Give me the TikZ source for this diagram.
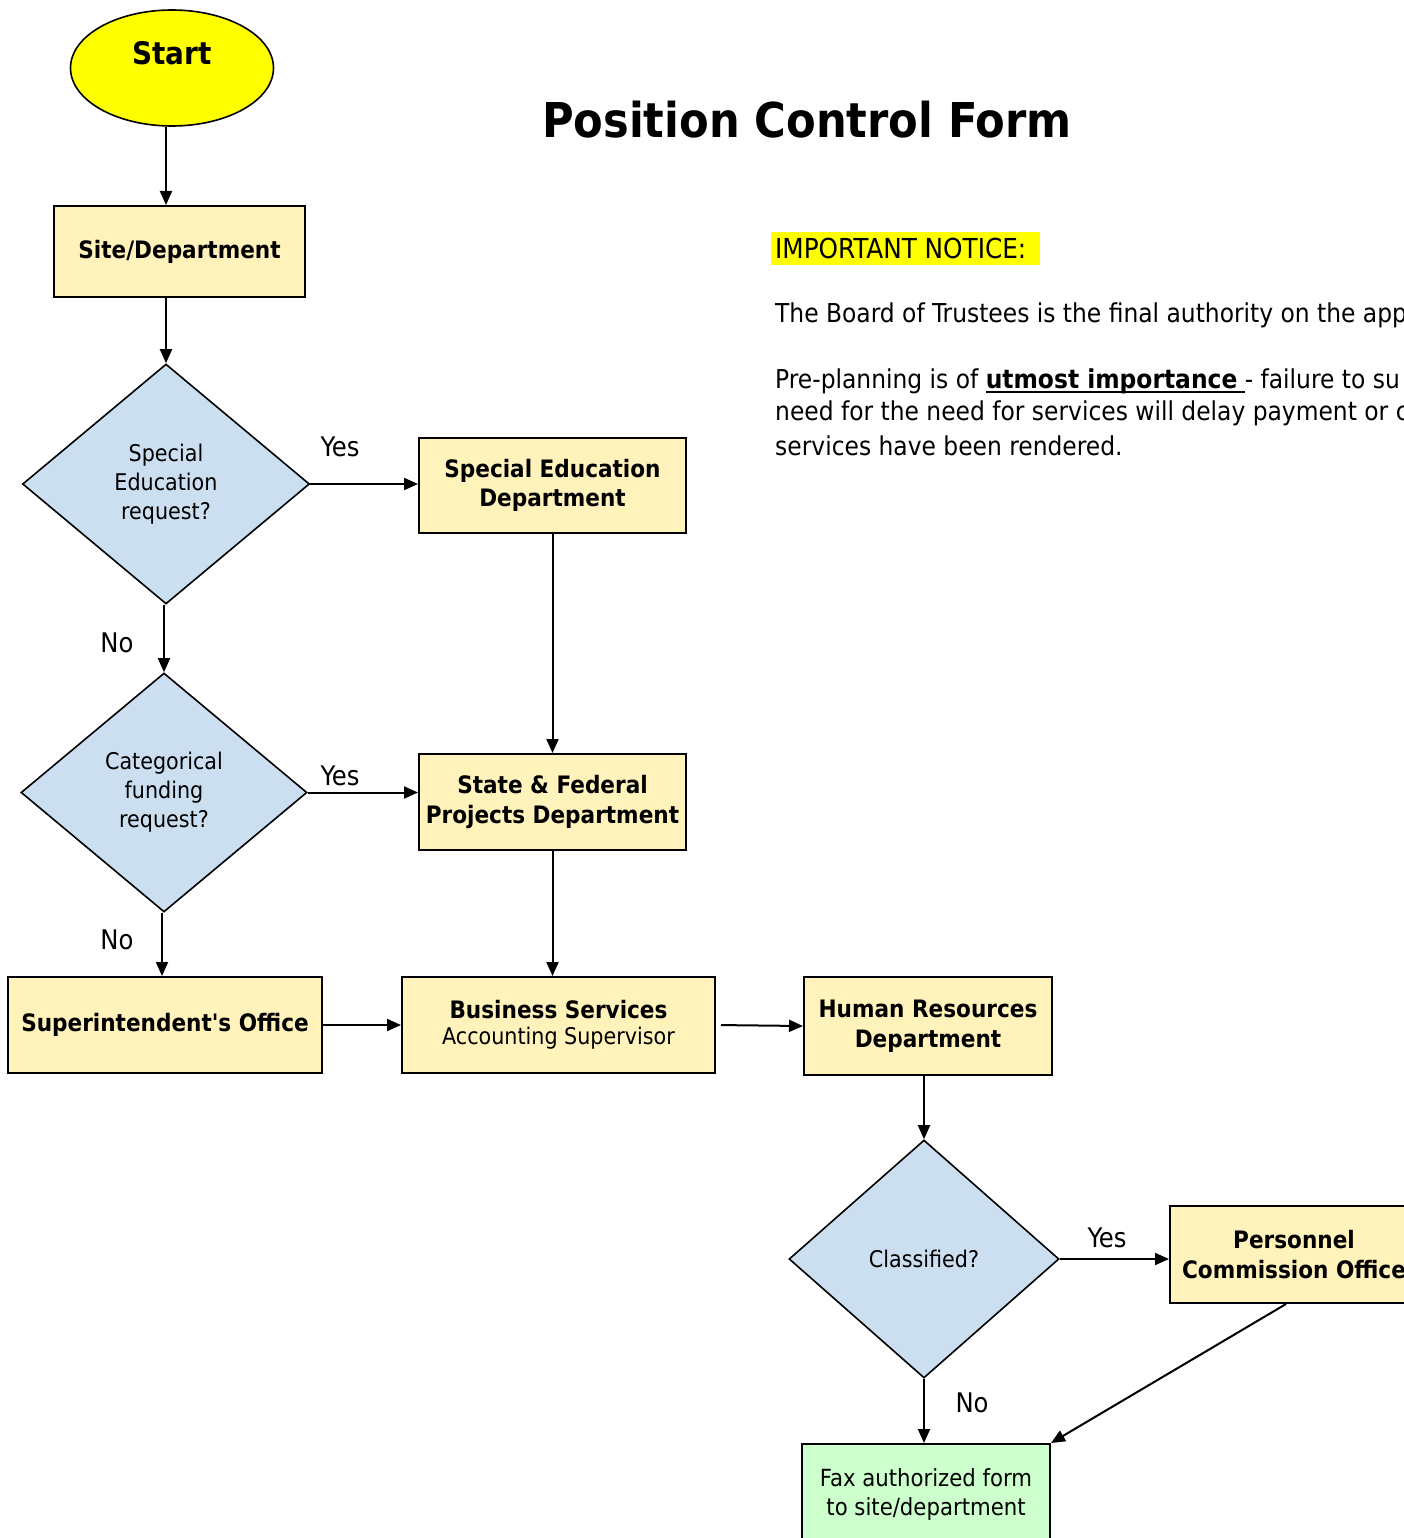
\documentclass[tikz,border=0pt]{standalone}
\usepackage{fontspec}
\setmainfont{DejaVu Sans Condensed}
\usetikzlibrary{shapes.geometric,arrows.meta}
\definecolor{boxfill}{HTML}{FFF2BB}
\definecolor{decfill}{HTML}{CCDFF1}
\definecolor{startfill}{HTML}{FFFF00}
\definecolor{faxfill}{HTML}{CCFFCC}
\newcommand{\straightapos}{{\XeTeXglyph\XeTeXcharglyph"0027\relax}}
\newcommand{\thickul}[1]{\setbox0\hbox{#1}\rlap{\rule[-5pt]{\wd0}{2pt}}\box0}
\begin{document}
\begin{tikzpicture}[x=1pt,y=-1pt,
  procbox/.style={draw=black,line width=2pt,fill=boxfill,rectangle,inner sep=0pt,align=center,
    font=\bfseries\fontsize{24}{29.5}\selectfont},
  decision/.style={draw=black,line width=1.6pt,fill=decfill,diamond,inner sep=0pt,align=center,
    font=\fontsize{23}{29}\selectfont},
  flow/.style={line width=2pt,-{Triangle[length=14pt,width=12pt]}},
  lbl/.style={font=\fontsize{27}{30}\selectfont,inner sep=0pt},
  body/.style={font=\fontsize{26}{33}\selectfont,inner sep=0pt,anchor=west}]
\useasboundingbox (0,0) rectangle (1404,1538);
\clip (0,0) rectangle (1404,1538);
\fill[white] (0,0) rectangle (1404,1538);

% title and notice
\node[font=\bfseries\fontsize{48}{58}\selectfont,inner sep=0pt] (title) at (807,120) {Position Control Form};
\fill[startfill] (771,232) rectangle (1040,265);
\node[body,font=\fontsize{27.5}{33}\selectfont] (notice) at (775,248) {IMPORTANT NOTICE:};
\node[body] (board) at (775,315) {The Board of Trustees is the final authority on the app};
\node[body] (pre1) at (775,381) {Pre-planning is of \thickul{\textbf{utmost importance}\ }- failure to su};
\node[body] (pre2) at (775,413) {need for the need for services will delay payment or c};
\node[body] (pre3) at (775,446) {services have been rendered.};

% nodes
\node[draw=black,line width=1.6pt,fill=startfill,ellipse,minimum width=203pt,minimum height=116pt,inner sep=0pt] (start) at (172,68) {};
\node[font=\bfseries\fontsize{31}{36}\selectfont,inner sep=0pt] (starttxt) at (172,53) {Start};
\node[procbox,minimum width=251pt,minimum height=91pt] (site) at (179.5,251.5) {Site/Department};
\node[decision,minimum width=287pt,minimum height=240pt] (d1) at (166,484) {Special\\Education\\request?};
\node[procbox,minimum width=267pt,minimum height=95pt] (sped) at (552.5,485.5) {Special Education\\Department};
\node[decision,minimum width=286pt,minimum height=239pt] (d2) at (164,792.5) {Categorical\\funding\\request?};
\node[procbox,minimum width=267pt,minimum height=96pt] (state) at (552.5,802) {State \& Federal\\Projects Department};
\node[procbox,minimum width=314pt,minimum height=96pt] (super) at (165,1025) {Superintendent\straightapos s Office};
\node[procbox,minimum width=313pt,minimum height=96pt] (bus) at (558.5,1025) {Business Services\\[-3.5pt]\mdseries\fontsize{23}{29}\selectfont Accounting Supervisor};
\node[procbox,minimum width=248pt,minimum height=98pt] (hr) at (928,1026) {Human Resources\\Department};
\node[decision,minimum width=270pt,minimum height=238pt] (d3) at (924,1259) {Classified?};
\node[procbox,minimum width=248pt,minimum height=97pt] (pco) at (1294,1254.5) {Personnel\\Commission Office};
\node[procbox,fill=faxfill,minimum width=248pt,minimum height=110pt] (fax) at (926,1499) {};
\node[font=\fontsize{23.6}{29}\selectfont,align=center,inner sep=0pt] (faxtxt) at (926,1494) {Fax authorized form\\to site/department};

% labels
\node[lbl] (y1) at (340,447) {Yes};
\node[lbl] (n1) at (117,643) {No};
\node[lbl] (y2) at (340,776) {Yes};
\node[lbl] (n2) at (117,940) {No};
\node[lbl] (y3) at (1107,1238) {Yes};
\node[lbl] (n3) at (972,1403) {No};

% connectors
\draw[flow] (start.south -| d1) -- (site.north -| d1);
\draw[flow] (site.south -| d1) -- (d1.north);
\draw[flow] (d1.east) -- (sped.west |- d1.east);
\draw[flow] (sped.south) -- (state.north);
\draw[flow] (d1.south -| d2) -- (d2.north);
\draw[flow] (d2.east) -- (state.west |- d2.east);
\draw[flow] ([xshift=-2pt]d2.south) -- ([xshift=-2pt]d2.south |- super.north);
\draw[flow] (state.south) -- (state.south |- bus.north);
\draw[flow] (super.east) -- (bus.west);
\draw[flow,shorten <=5pt] (bus.east) -- (hr.west);
\draw[flow] (hr.south -| d3) -- (d3.north);
\draw[flow] (d3.east) -- (pco.west |- d3.east);
\draw[flow] (d3.south) -- (d3.south |- fax.north);
\draw[flow] ([xshift=-8pt]pco.south) -- (fax.north east);
\end{tikzpicture}
\end{document}
